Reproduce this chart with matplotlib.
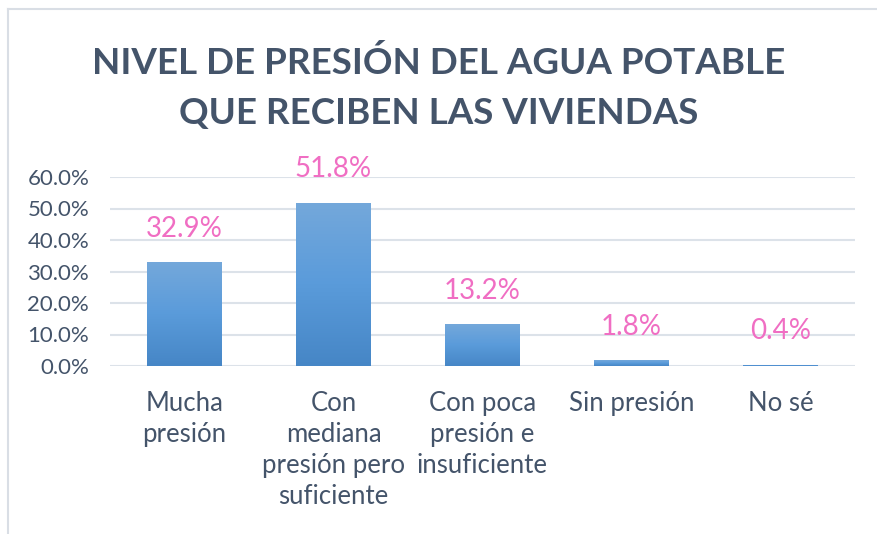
import numpy as np
import matplotlib.pyplot as plt
from matplotlib.lines import Line2D
from matplotlib.colors import LinearSegmentedColormap

categories = ["Mucha\npresión", "Con\nmediana\npresión pero\nsuficiente",
              "Con poca\npresión e\ninsuficiente", "Sin presión", "No sé"]
values = [32.9, 51.8, 13.2, 1.8, 0.4]
labels = ["32.9%", "51.8%", "13.2%", "1.8%", "0.4%"]
yticks = [0, 10, 20, 30, 40, 50, 60]

title = "NIVEL DE PRESIÓN DEL AGUA POTABLE\nQUE RECIBEN LAS VIVIENDAS"

text_color = "#44546A"
label_color = "#F06EC3"
grid_color = "#DCE2E9"

plt.rcParams['font.family'] = ['Lato', 'DejaVu Sans']

fig = plt.figure(figsize=(8.78, 5.34), dpi=100)
fig.patch.set_facecolor("white")

# chart frame, only left and top edges are visible in the screenshot
fx, fy = 8 / 878, 1 - 9 / 534
fig.lines.append(Line2D([fx, fx], [0, fy], transform=fig.transFigure,
                        color="#D9DEE5", linewidth=1.5))
fig.lines.append(Line2D([fx, 1], [fy, fy], transform=fig.transFigure,
                        color="#D9DEE5", linewidth=1.5))

ax = fig.add_axes([110 / 878, 1 - 366 / 534, (855 - 110) / 878, (366 - 177) / 534])
x = np.arange(len(values))
bars = ax.bar(x, values, width=0.5, color="#5B9BD5", zorder=2)

# vertical gradient on each bar
cmap = LinearSegmentedColormap.from_list("bar", ["#4686C6", "#5A9BDA", "#74A8DB"])
grad = np.linspace(0, 1, 256).reshape(-1, 1)
for b in bars:
    b.set_facecolor("none")
    b.set_edgecolor("none")
    im = ax.imshow(grad, cmap=cmap, aspect="auto", origin="lower",
                   extent=[b.get_x(), b.get_x() + b.get_width(), 0, b.get_height()],
                   zorder=2)
    im.set_clip_path(b)

for xi, v, lab in zip(x, values, labels):
    ax.annotate(lab, (xi, v), xytext=(0, 24), textcoords="offset points",
                ha="center", va="center", color=label_color, fontsize=20)

ax.set_xlim(-0.5, len(values) - 0.5)
ax.set_ylim(0, 60)
ax.set_yticks(yticks)
ax.set_yticklabels([f"{t:.1f}%" for t in yticks])
ax.set_xticks(x)
ax.set_xticklabels(categories, linespacing=1.3)
ax.tick_params(axis="both", length=0, colors=text_color)
ax.tick_params(axis="y", pad=15, labelsize=16)
ax.tick_params(axis="x", pad=18, labelsize=18.5)
ax.grid(axis="y", color=grid_color, linewidth=1.5, zorder=0)
for s in ax.spines.values():
    s.set_visible(False)

fig.text(0.5, 1 - 88 / 534, title, ha="center", va="center", fontsize=26.5,
         fontweight="bold", color=text_color, linespacing=1.6)

fig.savefig("out.png", dpi=100)
